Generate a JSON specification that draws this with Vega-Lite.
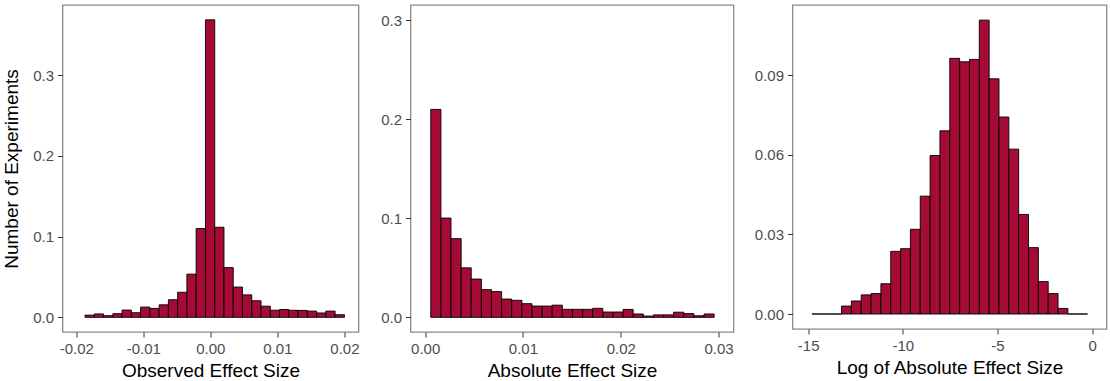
{
  "$schema": "https://vega.github.io/schema/vega-lite/v6.json",
  "padding": {"left": 1.5, "top": 4, "right": 0, "bottom": 0},
  "spacing": 19,
  "datasets": {
    "observed": [
      {"lo": -0.01870, "hi": -0.01732, "v": 0.0027},
      {"lo": -0.01732, "hi": -0.01594, "v": 0.0042},
      {"lo": -0.01594, "hi": -0.01455, "v": 0.0020},
      {"lo": -0.01455, "hi": -0.01317, "v": 0.0045},
      {"lo": -0.01317, "hi": -0.01179, "v": 0.0090},
      {"lo": -0.01179, "hi": -0.01041, "v": 0.0057},
      {"lo": -0.01041, "hi": -0.00903, "v": 0.0127},
      {"lo": -0.00903, "hi": -0.00764, "v": 0.0110},
      {"lo": -0.00764, "hi": -0.00626, "v": 0.0155},
      {"lo": -0.00626, "hi": -0.00488, "v": 0.0218},
      {"lo": -0.00488, "hi": -0.00350, "v": 0.0310},
      {"lo": -0.00350, "hi": -0.00212, "v": 0.0535},
      {"lo": -0.00212, "hi": -0.00073, "v": 0.1100},
      {"lo": -0.00073, "hi": 0.00065, "v": 0.3686},
      {"lo": 0.00065, "hi": 0.00203, "v": 0.1116},
      {"lo": 0.00203, "hi": 0.00341, "v": 0.0616},
      {"lo": 0.00341, "hi": 0.00479, "v": 0.0375},
      {"lo": 0.00479, "hi": 0.00618, "v": 0.0278},
      {"lo": 0.00618, "hi": 0.00756, "v": 0.0205},
      {"lo": 0.00756, "hi": 0.00894, "v": 0.0138},
      {"lo": 0.00894, "hi": 0.01032, "v": 0.0088},
      {"lo": 0.01032, "hi": 0.01170, "v": 0.0097},
      {"lo": 0.01170, "hi": 0.01309, "v": 0.0087},
      {"lo": 0.01309, "hi": 0.01447, "v": 0.0085},
      {"lo": 0.01447, "hi": 0.01585, "v": 0.0077},
      {"lo": 0.01585, "hi": 0.01723, "v": 0.0054},
      {"lo": 0.01723, "hi": 0.01861, "v": 0.0077},
      {"lo": 0.01861, "hi": 0.02000, "v": 0.0032}
    ],
    "absolute": [
      {"lo": 0.00057, "hi": 0.00161, "v": 0.2100},
      {"lo": 0.00161, "hi": 0.00264, "v": 0.1003},
      {"lo": 0.00264, "hi": 0.00368, "v": 0.0795},
      {"lo": 0.00368, "hi": 0.00471, "v": 0.0500},
      {"lo": 0.00471, "hi": 0.00575, "v": 0.0387},
      {"lo": 0.00575, "hi": 0.00678, "v": 0.0280},
      {"lo": 0.00678, "hi": 0.00782, "v": 0.0260},
      {"lo": 0.00782, "hi": 0.00885, "v": 0.0185},
      {"lo": 0.00885, "hi": 0.00989, "v": 0.0172},
      {"lo": 0.00989, "hi": 0.01092, "v": 0.0138},
      {"lo": 0.01092, "hi": 0.01196, "v": 0.0114},
      {"lo": 0.01196, "hi": 0.01299, "v": 0.0114},
      {"lo": 0.01299, "hi": 0.01403, "v": 0.0123},
      {"lo": 0.01403, "hi": 0.01506, "v": 0.0081},
      {"lo": 0.01506, "hi": 0.01610, "v": 0.0081},
      {"lo": 0.01610, "hi": 0.01713, "v": 0.0081},
      {"lo": 0.01713, "hi": 0.01817, "v": 0.0091},
      {"lo": 0.01817, "hi": 0.01920, "v": 0.0054},
      {"lo": 0.01920, "hi": 0.02024, "v": 0.0054},
      {"lo": 0.02024, "hi": 0.02127, "v": 0.0080},
      {"lo": 0.02127, "hi": 0.02231, "v": 0.0034},
      {"lo": 0.02231, "hi": 0.02334, "v": 0.0013},
      {"lo": 0.02334, "hi": 0.02438, "v": 0.0025},
      {"lo": 0.02438, "hi": 0.02541, "v": 0.0025},
      {"lo": 0.02541, "hi": 0.02645, "v": 0.0052},
      {"lo": 0.02645, "hi": 0.02748, "v": 0.0038},
      {"lo": 0.02748, "hi": 0.02852, "v": 0.0016},
      {"lo": 0.02852, "hi": 0.02955, "v": 0.0034}
    ],
    "logabs": [
      {"lo": -14.80, "hi": -14.28, "v": 0},
      {"lo": -14.28, "hi": -13.76, "v": 0},
      {"lo": -13.76, "hi": -13.24, "v": 0},
      {"lo": -13.24, "hi": -12.72, "v": 0.0030},
      {"lo": -12.72, "hi": -12.20, "v": 0.0049},
      {"lo": -12.20, "hi": -11.68, "v": 0.0072},
      {"lo": -11.68, "hi": -11.16, "v": 0.0077},
      {"lo": -11.16, "hi": -10.64, "v": 0.0114},
      {"lo": -10.64, "hi": -10.12, "v": 0.0236},
      {"lo": -10.12, "hi": -9.60, "v": 0.0246},
      {"lo": -9.60, "hi": -9.08, "v": 0.0319},
      {"lo": -9.08, "hi": -8.56, "v": 0.0444},
      {"lo": -8.56, "hi": -8.04, "v": 0.0597},
      {"lo": -8.04, "hi": -7.52, "v": 0.0690},
      {"lo": -7.52, "hi": -7.00, "v": 0.0963},
      {"lo": -7.00, "hi": -6.48, "v": 0.0950},
      {"lo": -6.48, "hi": -5.96, "v": 0.0959},
      {"lo": -5.96, "hi": -5.44, "v": 0.1107},
      {"lo": -5.44, "hi": -4.92, "v": 0.0886},
      {"lo": -4.92, "hi": -4.40, "v": 0.0742},
      {"lo": -4.40, "hi": -3.88, "v": 0.0621},
      {"lo": -3.88, "hi": -3.36, "v": 0.0375},
      {"lo": -3.36, "hi": -2.84, "v": 0.0250},
      {"lo": -2.84, "hi": -2.32, "v": 0.0122},
      {"lo": -2.32, "hi": -1.80, "v": 0.0077},
      {"lo": -1.80, "hi": -1.28, "v": 0.0021},
      {"lo": -1.28, "hi": -0.76, "v": 0},
      {"lo": -0.76, "hi": -0.24, "v": 0}
    ]
  },
  "config": {
    "view": {"stroke": "#8a8a8a", "strokeWidth": 1.3},
    "locale": {"number": {"decimal": ".", "thousands": ",", "grouping": [3], "currency": ["$", ""], "minus": "-"}},
    "axis": {
      "domain": false,
      "grid": false,
      "tickColor": "#333333",
      "tickSize": 5,
      "labelColor": "#4d4d4d",
      "labelFont": "Liberation Sans",
      "labelFontSize": 15,
      "labelPadding": 4,
      "titleFont": "Liberation Sans",
      "titleFontSize": 19,
      "titleFontWeight": "normal",
      "titleColor": "#000000",
      "titlePadding": 5
    },
    "axisY": {"titlePadding": 11},
    "bar": {"fill": "#a50b35", "stroke": "#000000", "strokeWidth": 1, "strokeOpacity": 0.9}
  },
  "hconcat": [
    {
      "width": 296,
      "height": 327,
      "data": {"name": "observed"},
      "mark": {"type": "bar"},
      "encoding": {
        "x": {"field": "lo", "type": "quantitative", "scale": {"domain": [-0.02206, 0.0221], "nice": false, "zero": false},
              "axis": {"title": "Observed Effect Size", "values": [-0.02, -0.01, 0, 0.01, 0.02], "format": ".2f"}},
        "x2": {"field": "hi"},
        "y": {"field": "v", "type": "quantitative", "scale": {"domain": [-0.0182, 0.387], "nice": false, "zero": false},
              "axis": {"title": "Number of Experiments", "values": [0, 0.1, 0.2, 0.3], "format": ".1f"}},
        "y2": {"datum": 0}
      }
    },
    {
      "width": 323,
      "height": 327,
      "data": {"name": "absolute"},
      "mark": {"type": "bar"},
      "encoding": {
        "x": {"field": "lo", "type": "quantitative", "scale": {"domain": [-0.0015, 0.03153], "nice": false, "zero": false},
              "axis": {"title": "Absolute Effect Size", "values": [0, 0.01, 0.02, 0.03], "format": ".2f"}},
        "x2": {"field": "hi"},
        "y": {"field": "v", "type": "quantitative", "scale": {"domain": [-0.0148, 0.3155], "nice": false, "zero": false},
              "axis": {"title": null, "values": [0, 0.1, 0.2, 0.3], "format": ".1f"}},
        "y2": {"datum": 0}
      }
    },
    {
      "width": 314,
      "height": 324,
      "data": {"name": "logabs"},
      "mark": {"type": "bar"},
      "encoding": {
        "x": {"field": "lo", "type": "quantitative", "scale": {"domain": [-15.83, 0.76], "nice": false, "zero": false},
              "axis": {"title": "Log of Absolute Effect Size", "values": [-15, -10, -5, 0], "format": "d"}},
        "x2": {"field": "hi"},
        "y": {"field": "v", "type": "quantitative", "scale": {"domain": [-0.00565, 0.1164], "nice": false, "zero": false},
              "axis": {"title": null, "values": [0, 0.03, 0.06, 0.09], "format": ".2f"}},
        "y2": {"datum": 0}
      }
    }
  ]
}
